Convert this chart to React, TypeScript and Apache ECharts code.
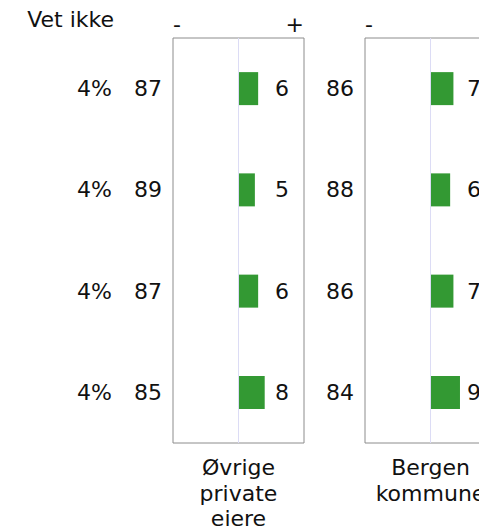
import React, { useEffect, useRef } from "react";
import * as echarts from "echarts";

const rows = ["Rad 1", "Rad 2", "Rad 3", "Rad 4"];
const vetIkke = [4, 4, 4, 4];
const panelNames = ["Øvrige\nprivate\neiere", "Bergen\nkommune"];
const negValues = [
  [87, 89, 87, 85],
  [86, 88, 86, 84],
];
const posValues = [
  [6, 5, 6, 8],
  [7, 6, 7, 9],
];
const tickMinus = "-";
const tickPlus = "+";
const headerText = "Vet ikke";

const FONT = "DejaVu Sans";
const FS = 22;
const TXT = "#111";
const PAD = [4, 0, 0, 0];

export default function App() {
  const ref = useRef<HTMLDivElement>(null);
  useEffect(() => {
    if (!ref.current) return;
    const chart = echarts.init(ref.current, null, { renderer: "svg" });
    const lefts = [173, 365];
    const grids: any[] = [];
    const xAxes: any[] = [];
    const yAxes: any[] = [];
    const series: any[] = [];
    lefts.forEach((left, i) => {
      grids.push({
        left,
        top: 38,
        width: 131,
        height: 405,
        show: true,
        borderColor: "#8c8c8c",
        borderWidth: 1,
        containLabel: false,
        outerBoundsMode: "none",
      });
      const topIdx = xAxes.length;
      xAxes.push({
        gridIndex: i,
        type: "value",
        min: -20,
        max: 20,
        interval: 20,
        position: "top",
        axisLine: { show: false },
        axisTick: { show: false },
        splitLine: { show: false },
        axisLabel: {
          formatter: (v: number) => (v === -20 ? tickMinus : v === 20 ? tickPlus : ""),
          alignMinLabel: "left",
          alignMaxLabel: "right",
          margin: 3,
          fontSize: FS,
          fontFamily: FONT,
          color: TXT,
        },
      });
      xAxes.push({
        gridIndex: i,
        type: "value",
        min: -20,
        max: 20,
        position: "bottom",
        axisLine: { show: false },
        axisTick: { show: false },
        splitLine: { show: false },
        axisLabel: { show: false },
        name: panelNames[i],
        nameLocation: "middle",
        nameGap: 12,
        nameTextStyle: {
          fontSize: FS,
          fontFamily: FONT,
          color: TXT,
          lineHeight: 25.5,
          verticalAlign: "top",
        },
      });
      const leftIdx = yAxes.length;
      yAxes.push({
        gridIndex: i,
        type: "category",
        data: rows,
        inverse: true,
        position: "left",
        axisLine: { show: false },
        axisTick: { show: false },
        splitLine: { show: false },
        axisLabel: {
          formatter: (_v: string, idx: number) => String(negValues[i][idx]),
          margin: 11,
          padding: PAD,
          fontSize: FS,
          fontFamily: FONT,
          color: TXT,
        },
      });
      yAxes.push({
        gridIndex: i,
        type: "category",
        data: rows,
        inverse: true,
        position: "right",
        axisLine: { show: false },
        axisTick: { show: false },
        splitLine: { show: false },
        axisLabel: {
          inside: true,
          formatter: (_v: string, idx: number) => String(posValues[i][idx]),
          margin: 15,
          padding: PAD,
          fontSize: FS,
          fontFamily: FONT,
          color: TXT,
        },
      });
      if (i === 0) {
        yAxes.push({
          gridIndex: i,
          type: "category",
          data: rows,
          inverse: true,
          position: "left",
          offset: 50,
          axisLine: { show: false },
          axisTick: { show: false },
          splitLine: { show: false },
          axisLabel: {
            formatter: (_v: string, idx: number) => vetIkke[idx] + "%",
            margin: 11,
            padding: PAD,
            fontSize: FS,
            fontFamily: FONT,
            color: TXT,
          },
        });
      }
      series.push({
        type: "bar",
        xAxisIndex: topIdx,
        yAxisIndex: leftIdx,
        data: posValues[i],
        barWidth: 33,
        itemStyle: { color: "#339933" },
        markLine: {
          silent: true,
          symbol: "none",
          label: { show: false },
          lineStyle: { color: "#dcdcf5", type: "solid", width: 1 },
          data: [{ xAxis: 0 }],
        },
      });
    });
    chart.setOption({
      animation: false,
      backgroundColor: "#fff",
      textStyle: { fontFamily: FONT, color: TXT },
      grid: grids,
      xAxis: xAxes,
      yAxis: yAxes,
      series,
      graphic: [
        {
          type: "text",
          right: 479 - 114,
          top: 8,
          style: { text: headerText, font: `${FS}px "${FONT}"`, fill: TXT },
        },
      ],
    });
    return () => chart.dispose();
  }, []);
  return (
    <div
      ref={ref}
      style={{ position: "fixed", left: 0, top: 0, width: 479, height: 528 }}
    />
  );
}
